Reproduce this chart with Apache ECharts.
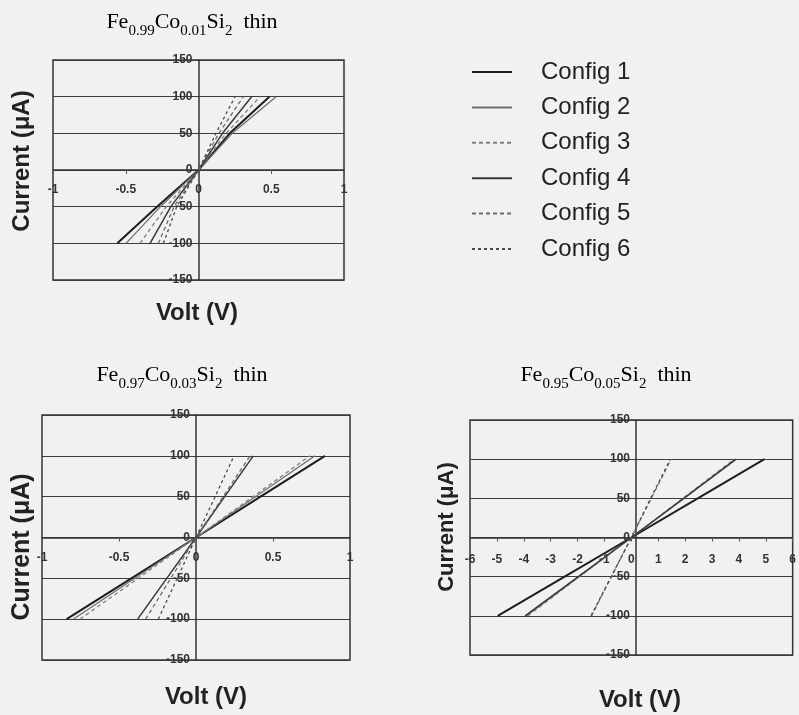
<!DOCTYPE html>
<html>
<head>
<meta charset="utf-8">
<script src="https://cdn.jsdelivr.net/npm/echarts@6/dist/echarts.min.js"></script>
<style>
html,body{margin:0;padding:0;background:#f1f1f1;}
#chart{width:799px;height:715px;}
</style>
</head>
<body>
<div id="chart"></div>
<script>
// ---- Data ----
const configNames = ['Config 1', 'Config 2', 'Config 3', 'Config 4', 'Config 5', 'Config 6'];
const currentLevels = [-100, -50, 0, 50, 100]; // µA

// Fe0.99Co0.01Si2 thin : voltage (V) at each current level, per config
const voltsFe099 = [
  [-0.558, -0.285, 0, 0.215, 0.487],
  [-0.498, -0.262, 0, 0.232, 0.533],
  [-0.402, -0.222, 0, 0.190, 0.423],
  [-0.333, -0.190, 0, 0.165, 0.365],
  [-0.276, -0.168, 0, 0.140, 0.308],
  [-0.241, -0.150, 0, 0.120, 0.251]
];
// Fe0.97Co0.03Si2 thin
const voltsFe097 = [
  [-0.840, -0.420, 0, 0.419, 0.838],
  [-0.797, -0.398, 0, 0.386, 0.773],
  [-0.753, -0.376, 0, 0.370, 0.740],
  [-0.379, -0.190, 0, 0.186, 0.372],
  [-0.327, -0.164, 0, 0.176, 0.351],
  [-0.245, -0.122, 0, 0.124, 0.247]
];
// Fe0.95Co0.05Si2 thin
const voltsFe095 = [
  [-4.97, -2.48, 0, 2.47, 4.95],
  [-3.90, -1.95, 0, 1.96, 3.87],
  [-3.85, -1.93, 0, 1.92, 3.83],
  [-3.95, -1.97, 0, 1.95, 3.90],
  [-1.48, -0.74, 0, 0.74, 1.48],
  [-1.50, -0.75, 0, 0.72, 1.45]
];

const yTicks = {min: -150, max: 150, interval: 50};
const xRangeA = {min: -1, max: 1, interval: 0.5};
const xRangeB = {min: -1, max: 1, interval: 0.5};
const xRangeC = {min: -6, max: 6, interval: 1};

// ---- Styles ----
const lineStyles = [
  {color: '#1e1e1e', width: 2, type: 'solid'},
  {color: '#6e6e6e', width: 1.3, type: 'solid'},
  {color: '#808080', width: 1.3, type: [4, 3]},
  {color: '#3a3a3a', width: 1.5, type: 'solid'},
  {color: '#6a6a6a', width: 1.3, type: [4, 3]},
  {color: '#4a4a4a', width: 1.3, type: [3, 3]}
];
const sans = '"Liberation Sans", Arial, sans-serif';
const serif = '"Liberation Serif", "Times New Roman", serif';

const grids = [
  {left: 53, top: 60, width: 291, height: 220},
  {left: 42, top: 415, width: 308, height: 245},
  {left: 470, top: 420, width: 332, height: 235}
];
grids.forEach(g => { g.show = true; g.borderColor = '#333'; g.borderWidth = 1.5; g.backgroundColor = 'transparent'; });

// axes placed through the centre of each (symmetric) plot
function xAxisFor(idx, range, margin) {
  return {
    type: 'value', gridIndex: idx, min: range.min, max: range.max, interval: range.interval,
    position: 'bottom', offset: -grids[idx].height / 2,
    axisLine: {onZero: false, lineStyle: {color: '#333', width: 1.5}},
    axisTick: {show: true, length: 4, lineStyle: {color: '#555'}},
    splitLine: {show: false},
    axisLabel: {margin: margin, fontSize: 12, fontWeight: 'bold', color: '#333', fontFamily: sans}
  };
}
function yAxisFor(idx) {
  return {
    type: 'value', gridIndex: idx, min: yTicks.min, max: yTicks.max, interval: yTicks.interval,
    position: 'left', offset: -grids[idx].width / 2,
    axisLine: {onZero: false, lineStyle: {color: '#333', width: 1.5}},
    axisTick: {show: false},
    splitLine: {show: true, lineStyle: {color: '#3c3c3c', width: 1.2}},
    axisLabel: {margin: 6, fontSize: 12, fontWeight: 'bold', color: '#333', fontFamily: sans}
  };
}

const panels = [voltsFe099, voltsFe097, voltsFe095];
const series = [];
panels.forEach((volts, p) => {
  volts.forEach((vs, c) => {
    series.push({
      name: configNames[c], type: 'line', xAxisIndex: p, yAxisIndex: p,
      symbol: 'none', smooth: false, z: 3,
      lineStyle: lineStyles[c], itemStyle: {color: lineStyles[c].color},
      data: vs.map((v, i) => [v, currentLevels[i]])
    });
  });
});

const titleRich = {
  n: {fontFamily: serif, fontSize: 22, color: '#222', lineHeight: 27, verticalAlign: 'top'},
  s: {fontFamily: serif, fontSize: 15, color: '#222', lineHeight: 15, verticalAlign: 'bottom'}
};
function titleText(a, b) {
  return '{n|Fe}{s|' + a + '}{n|Co}{s|' + b + '}{n|Si}{s|2}{n|  thin}';
}
function titleEl(x, y, a, b) {
  return {type: 'text', x: x, y: y, z: 10,
    style: {text: titleText(a, b), rich: titleRich, align: 'center', verticalAlign: 'middle', textAlign: 'center', textVerticalAlign: 'middle'}};
}
function labelEl(x, y, text, rot, size) {
  return {type: 'text', x: x, y: y, rotation: rot, z: 10,
    style: {text: text, fontFamily: sans, fontWeight: 'bold', fontSize: size, fill: '#222',
      align: 'center', verticalAlign: 'middle', textAlign: 'center', textVerticalAlign: 'middle'}};
}

const option = {
  backgroundColor: '#f1f1f1',
  animation: false,
  grid: grids,
  xAxis: [xAxisFor(0, xRangeA, 14), xAxisFor(1, xRangeB, 14), xAxisFor(2, xRangeC, 16)],
  yAxis: [yAxisFor(0), yAxisFor(1), yAxisFor(2)],
  legend: {
    data: configNames, orient: 'vertical', left: 466, top: 55,
    itemWidth: 40, itemHeight: 14, itemGap: 11.4,
    itemStyle: {color: 'rgba(0,0,0,0)', borderWidth: 0, opacity: 0},
    formatter: name => '{t|' + name + '}',
    textStyle: {rich: {t: {fontFamily: sans, fontSize: 24, color: '#222', lineHeight: 24, padding: [0, 0, 0, 24]}}}
  },
  graphic: [
    titleEl(192, 25, '0.99', '0.01'),
    titleEl(182, 378, '0.97', '0.03'),
    titleEl(606, 378, '0.95', '0.05'),
    labelEl(22, 161, 'Current (\u03bcA)', Math.PI / 2, 24),
    labelEl(22, 547, 'Current (\u03bcA)', Math.PI / 2, 25),
    labelEl(447, 527, 'Current (\u03bcA)', Math.PI / 2, 22),
    labelEl(197, 313, 'Volt (V)', 0, 24),
    labelEl(206, 697, 'Volt (V)', 0, 24),
    labelEl(640, 700, 'Volt (V)', 0, 24)
  ],
  series: series
};

const chart = echarts.init(document.getElementById('chart'), null, {renderer: 'canvas'});
chart.setOption(option);
</script>
</body>
</html>
